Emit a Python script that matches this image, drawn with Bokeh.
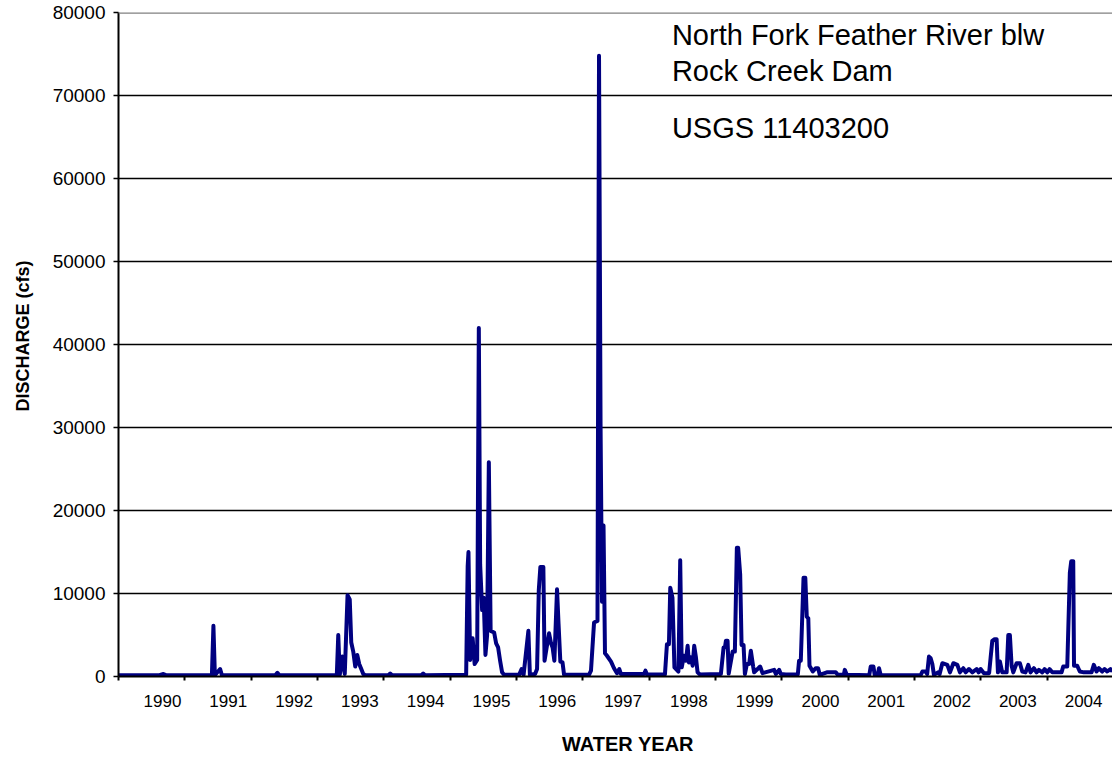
from bokeh.plotting import figure
from bokeh.models import (Range1d, FixedTicker, Label, Span, ColumnDataSource, LinearAxis,
                          BasicTickFormatter, CustomJSTickFormatter)
from bokeh.embed import file_html
from bokeh.resources import INLINE
import math

# Mean daily discharge, North Fork Feather River below Rock Creek Dam,
# taken at the turning points of the hydrograph (decimal year, cfs)
years = [
    1989.750, 1990.367, 1990.428, 1990.473, 1991.158, 1991.181, 1991.203, 1991.282,
    1991.309, 1992.114, 1992.145, 1992.175, 1993.041, 1993.063, 1993.086, 1993.123,
    1993.161, 1993.203, 1993.236, 1993.259, 1993.289, 1993.319, 1993.349, 1993.379,
    1993.410, 1993.440, 1993.470, 1993.816, 1993.846, 1993.876, 1994.313, 1994.343,
    1994.373, 1994.991, 1995.014, 1995.026, 1995.051, 1995.089, 1995.119, 1995.157,
    1995.182, 1995.202, 1995.232, 1995.255, 1995.282, 1995.307, 1995.333, 1995.360,
    1995.413, 1995.443, 1995.473, 1995.503, 1995.533, 1995.563, 1995.789, 1995.827,
    1995.857, 1995.929, 1995.952, 1996.030, 1996.060, 1996.086, 1996.110, 1996.155,
    1996.173, 1996.211, 1996.241, 1996.271, 1996.294, 1996.321, 1996.361, 1996.384,
    1996.411, 1996.444, 1996.467, 1996.843, 1996.873, 1996.919, 1996.971, 1996.994,
    1997.017, 1997.039, 1997.062, 1997.084, 1997.114, 1997.175, 1997.220, 1997.265,
    1997.300, 1997.325, 1997.672, 1997.694, 1997.717, 1997.988, 1998.018, 1998.048,
    1998.068, 1998.101, 1998.131, 1998.191, 1998.218, 1998.241, 1998.274, 1998.304,
    1998.330, 1998.349, 1998.380, 1998.405, 1998.429, 1998.455, 1998.480, 1998.515,
    1998.831, 1998.872, 1998.892, 1998.907, 1998.932, 1998.949, 1999.008, 1999.042,
    1999.072, 1999.092, 1999.122, 1999.143, 1999.173, 1999.193, 1999.223, 1999.258,
    1999.283, 1999.318, 1999.333, 1999.423, 1999.459, 1999.634, 1999.660, 1999.709,
    1999.735, 1999.810, 1999.991, 2000.010, 2000.036, 2000.077, 2000.104, 2000.126,
    2000.149, 2000.167, 2000.217, 2000.262, 2000.297, 2000.322, 2000.428, 2000.563,
    2000.593, 2000.684, 2000.699, 2000.729, 2001.068, 2001.090, 2001.131, 2001.150,
    2001.196, 2001.215, 2001.241, 2001.843, 2001.869, 2001.919, 2001.941, 2001.968,
    2001.994, 2002.019, 2002.043, 2002.104, 2002.129, 2002.170, 2002.245, 2002.285,
    2002.336, 2002.396, 2002.435, 2002.486, 2002.521, 2002.571, 2002.622, 2002.687,
    2002.717, 2002.747, 2002.797, 2002.875, 2002.898, 2002.923, 2002.958, 2002.988,
    2003.008, 2003.038, 2003.073, 2003.139, 2003.164, 2003.188, 2003.214, 2003.239,
    2003.289, 2003.339, 2003.375, 2003.424, 2003.465, 2003.500, 2003.550, 2003.590,
    2003.625, 2003.676, 2003.711, 2003.751, 2003.786, 2003.827, 2003.967, 2003.992,
    2004.053, 2004.092, 2004.113, 2004.143, 2004.155, 2004.203, 2004.242, 2004.303,
    2004.419, 2004.453, 2004.494, 2004.529, 2004.580, 2004.614, 2004.655, 2004.705,
    2004.735,
]
discharge = [
    150, 150, 300, 150, 150, 6100, 150, 900,
    150, 150, 450, 150, 150, 5000, 200, 2400,
    300, 9800, 9300, 4100, 3000, 1200, 2600, 1500,
    900, 300, 150, 150, 350, 150, 150, 350,
    150, 200, 13300, 15000, 2000, 4600, 1500, 2000,
    42000, 13500, 8000, 9500, 2600, 5000, 25800, 5500,
    5300, 4000, 3500, 1900, 500, 200, 200, 900,
    200, 5500, 200, 300, 900, 10400, 13200, 13200,
    1900, 3800, 5200, 4000, 3500, 1900, 10500, 6300,
    1800, 1700, 200, 200, 700, 6500, 6700, 74800,
    30500, 9000, 18200, 2800, 2500, 1800, 1000, 400,
    900, 300, 300, 700, 250, 250, 3900, 3900,
    10700, 9500, 1100, 600, 14000, 1100, 2500, 1900,
    3700, 1700, 2300, 1300, 3700, 2300, 500, 250,
    300, 3500, 3500, 4300, 4300, 350, 3000, 3000,
    15500, 15500, 12300, 3800, 3800, 300, 1500, 1500,
    3100, 1200, 500, 1200, 400, 800, 300, 800,
    300, 250, 250, 1900, 1900, 11900, 11900, 7200,
    7000, 1300, 600, 1000, 1000, 200, 500, 500,
    200, 200, 800, 200, 150, 1200, 1200, 200,
    200, 1000, 150, 150, 600, 600, 300, 2400,
    2200, 1500, 200, 500, 300, 1600, 1400, 500,
    1600, 1400, 500, 1000, 500, 900, 500, 900,
    500, 900, 400, 400, 2300, 4300, 4500, 4500,
    500, 1800, 500, 500, 5000, 5000, 1300, 500,
    1600, 1600, 600, 500, 1400, 500, 1000, 500,
    800, 500, 900, 500, 900, 500, 500, 1200,
    1200, 12500, 13900, 13900, 1300, 1300, 600, 500,
    500, 1400, 600, 1000, 600, 900, 600, 900,
    600,
]

water_years = ["1990", "1991", "1992", "1993", "1994", "1995", "1996", "1997",
               "1998", "1999", "2000", "2001", "2002", "2003", "2004"]
y_ticks = [0, 10000, 20000, 30000, 40000, 50000, 60000, 70000, 80000]

FONT = "Liberation Sans"
X0 = 1989.75                      # 1 October 1989, start of water year 1990
X1 = 2004.735

# water-year boundaries carry the tick marks, names sit inside each year
year_starts = [X0 + i for i in range(len(water_years) + 1)]
label_x = [X0 + 0.663 + 0.9919 * i for i in range(len(water_years))]

p = figure(width=1112, height=759, output_backend="svg", toolbar_location=None,
           x_range=Range1d(X0, X1), y_range=Range1d(0, 80000),
           min_border_left=117, min_border_right=0, min_border_top=12,
           min_border_bottom=83)
p.outline_line_color = None
p.background_fill_color = "white"
p.border_fill_color = "white"

# gridlines
p.xgrid.visible = False
p.ygrid.ticker = FixedTicker(ticks=y_ticks[1:-1])
p.ygrid.grid_line_color = "black"
p.ygrid.grid_line_width = 1.5
p.add_layout(Span(location=y_ticks[-1], dimension="width",
                  line_color="#808080", line_width=2.5))

# y axis
ya = p.yaxis[0]
ya.ticker = FixedTicker(ticks=y_ticks)
ya.formatter = BasicTickFormatter(use_scientific=False)
ya.axis_line_color = "black"
ya.axis_line_width = 2
ya.major_tick_in = 0
ya.major_tick_out = 5
ya.major_tick_line_width = 1.5
ya.major_tick_line_color = "black"
ya.minor_tick_line_color = None
ya.major_label_standoff = 8
ya.major_label_text_font = FONT
ya.major_label_text_font_size = "19px"
ya.major_label_text_color = "black"

# x axis
xa = p.xaxis[0]
xa.ticker = FixedTicker(ticks=label_x, minor_ticks=year_starts)
xa.formatter = CustomJSTickFormatter(args=dict(labels=water_years),
                                     code="return labels[index];")
xa.axis_line_color = "black"
xa.axis_line_width = 2
xa.major_tick_line_color = None
xa.major_tick_in = 0
xa.major_tick_out = 0
xa.minor_tick_in = 0
xa.minor_tick_out = 4
xa.minor_tick_line_color = "black"
xa.minor_tick_line_width = 2
xa.major_label_standoff = 14
xa.major_label_text_font = FONT
xa.major_label_text_font_size = "17px"
xa.major_label_text_color = "black"


def title_axis(kind, at, text, size, standoff, **kw):
    """A bare axis that carries a single bold caption at a chosen position."""
    ax = LinearAxis(ticker=FixedTicker(ticks=[at]),
                    formatter=CustomJSTickFormatter(args=dict(t=text), code="return t;"),
                    axis_line_color=None, major_tick_line_color=None,
                    minor_tick_line_color=None, major_tick_in=0, major_tick_out=0,
                    major_label_standoff=standoff, major_label_text_font=FONT,
                    major_label_text_font_size=size, major_label_text_font_style="bold",
                    major_label_text_color="black", **kw)
    p.add_layout(ax, kind)


# axis titles
title_axis("below", 1997.431, "WATER YEAR", "20px", 23)
title_axis("left", 50120, "DISCHARGE (cfs)", "18px", 26,
           major_label_orientation=math.pi / 2)

# hydrograph
src = ColumnDataSource(dict(year=years, cfs=discharge))
p.line(x="year", y="cfs", source=src, line_color="#000080", line_width=4,
       line_join="round")

# station caption
for txt, yv in [("North Fork Feather River blw", 77230),
                ("Rock Creek Dam", 73010),
                ("USGS 11403200", 66140)]:
    p.add_layout(Label(x=1998.093, y=yv, text=txt, text_font=FONT,
                       text_font_size="29px", text_align="left",
                       text_baseline="alphabetic", text_color="black"))

open("out.html", "w").write(file_html(p, INLINE))
